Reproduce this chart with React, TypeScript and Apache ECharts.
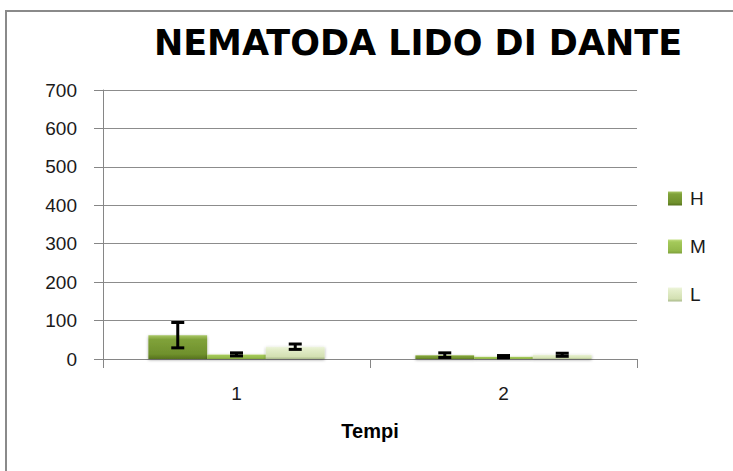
import React, { useEffect, useRef } from "react";
import * as echarts from "echarts";

const categories = ["1", "2"];
const seriesNames = ["H", "M", "L"];
const valuesH = [62, 10];
const valuesM = [12, 6];
const valuesL = [32, 11];
const errorsH = [33, 6];
const errorsM = [4, 3];
const errorsL = [7, 4];
const yTicks = [0, 700, 100];

const grad = (stops: [number, string][]) =>
  new echarts.graphic.LinearGradient(
    0, 0, 0, 1,
    stops.map(([offset, color]) => ({ offset, color }))
  );

const colorH = () => grad([[0, "#a9c766"], [0.18, "#80a23a"], [0.8, "#6f902c"], [1, "#56721e"]]);
const colorM = () => grad([[0, "#c3de83"], [0.18, "#a4c95a"], [0.8, "#93b84a"], [1, "#7d9f3a"]]);
const colorL = () => grad([[0, "#eef5dd"], [0.2, "#e4eecb"], [0.8, "#d3e0b2"], [1, "#a9b98a"]]);

export default function App() {
  const ref = useRef<HTMLDivElement>(null);
  useEffect(() => {
    if (!ref.current) return;
    const chart = echarts.init(ref.current, undefined, { renderer: "svg" });
    const values = [valuesH, valuesM, valuesL];
    const errors = [errorsH, errorsM, errorsL];
    const colors = [colorH(), colorM(), colorL()];
    const errData: number[][] = [];
    values.forEach((vals, s) => {
      vals.forEach((v, c) => {
        errData.push([c, v - errors[s][c], v + errors[s][c], s]);
      });
    });
    const gapRatio = 0.34;
    const option: any = {
      animation: false,
      backgroundColor: "#ffffff",
      title: {
        text: "NEMATODA LIDO DI DANTE",
        left: 413,
        top: 20,
        textAlign: "center",
        textStyle: {
          fontFamily: "DejaVu Sans",
          fontWeight: "bold",
          fontSize: 35,
          color: "#000000",
        },
      },
      graphic: [
        {
          type: "rect",
          shape: { x: 6, y: 11, width: 900, height: 600 },
          style: { fill: "none", stroke: "#8a8a8a", lineWidth: 2 },
          silent: true,
        },
      ],
      legend: {
        orient: "vertical",
        left: 668,
        top: 189,
        padding: 0,
        itemWidth: 14,
        itemHeight: 14,
        itemGap: 29,
        icon: "rect",
        data: seriesNames,
        textStyle: {
          fontFamily: "Liberation Sans",
          fontSize: 19,
          color: "#1a1a1a",
          padding: [0, 0, 0, 3],
        },
        selectedMode: false,
      },
      grid: { left: 103, right: 96, top: 90, bottom: 112 },
      xAxis: {
        type: "category",
        data: categories,
        name: "Tempi",
        nameLocation: "middle",
        nameGap: 62,
        nameTextStyle: {
          fontFamily: "Liberation Sans",
          fontWeight: "bold",
          fontSize: 20,
          color: "#000000",
        },
        axisLine: { lineStyle: { color: "#868686", width: 1 } },
        axisTick: { show: true, length: 9, lineStyle: { color: "#868686" } },
        axisLabel: {
          fontFamily: "Liberation Sans",
          fontSize: 19,
          color: "#1a1a1a",
          margin: 25,
        },
      },
      yAxis: {
        type: "value",
        min: yTicks[0],
        max: yTicks[1],
        interval: yTicks[2],
        axisLine: { show: true, lineStyle: { color: "#868686", width: 1 } },
        axisTick: { show: true, length: 9, lineStyle: { color: "#868686" } },
        splitLine: { show: true, lineStyle: { color: "#8c8c8c", width: 1 } },
        axisLabel: {
          fontFamily: "Liberation Sans",
          fontSize: 19,
          color: "#1a1a1a",
          margin: 26,
        },
      },
      series: [
        ...seriesNames.map((name, s) => ({
          name,
          type: "bar",
          data: values[s],
          barGap: "0%",
          barCategoryGap: gapRatio * 100 + "%",
          itemStyle: {
            color: colors[s],
            shadowBlur: 3,
            shadowColor: "rgba(0,0,0,0.35)",
            shadowOffsetY: 1,
          },
        })),
        {
          type: "custom",
          name: "err",
          data: errData,
          z: 10,
          renderItem: (params: any, api: any) => {
            const c = api.value(0);
            const lo = api.value(1);
            const hi = api.value(2);
            const s = api.value(3);
            const band = api.size([1, 0])[0];
            const barW = (band * (1 - gapRatio)) / 3;
            const cx = api.coord([c, 0])[0] + (s - 1) * barW;
            const yLo = api.coord([c, Math.max(lo, 0)])[1];
            const yHi = api.coord([c, hi])[1];
            const half = 6.5;
            const style = { stroke: "#000000", lineWidth: 3 };
            return {
              type: "group",
              children: [
                { type: "line", shape: { x1: cx, y1: yLo, x2: cx, y2: yHi }, style },
                { type: "line", shape: { x1: cx - half, y1: yHi, x2: cx + half, y2: yHi }, style },
                { type: "line", shape: { x1: cx - half, y1: yLo, x2: cx + half, y2: yLo }, style },
              ],
            };
          },
        },
      ],
    };
    chart.setOption(option);
    return () => chart.dispose();
  }, []);
  return (
    <div
      ref={ref}
      style={{ position: "fixed", left: 0, top: 0, width: 733, height: 471 }}
    />
  );
}
